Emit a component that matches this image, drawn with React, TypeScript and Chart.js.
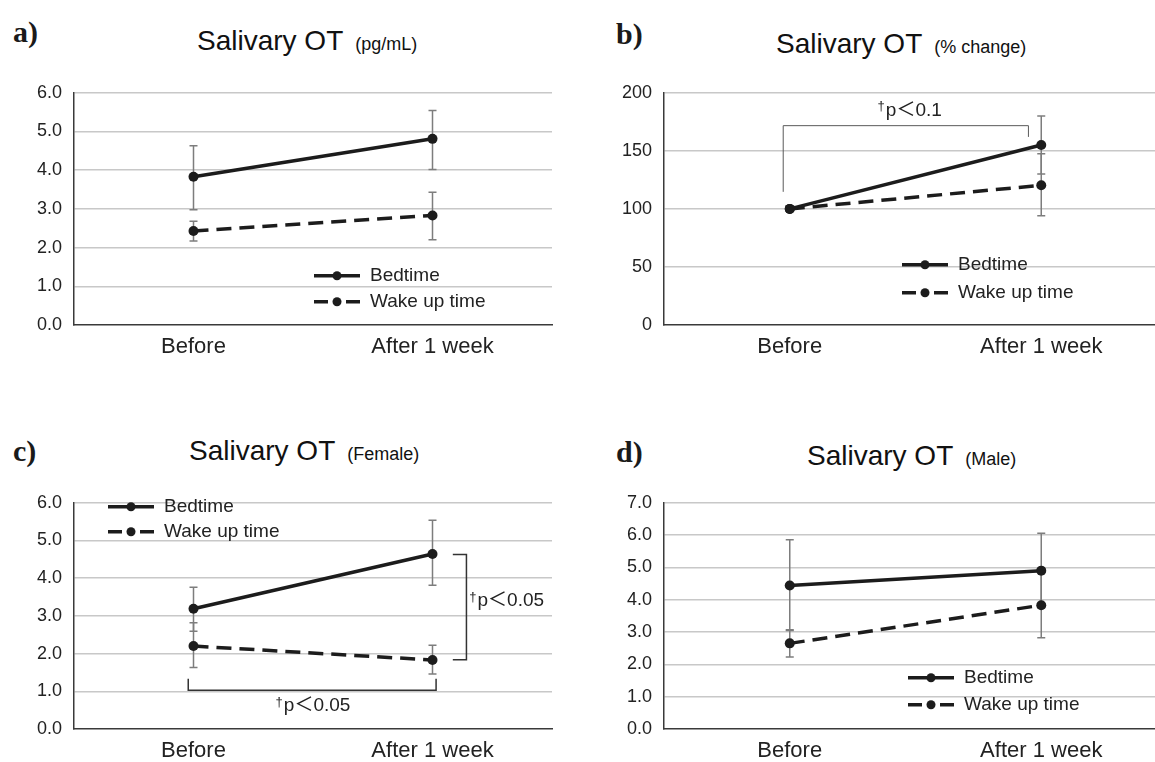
import React, { useEffect, useRef } from "react";
import { Chart, registerables } from "chart.js";

Chart.register(...registerables);

// ---------- data ----------
const CATEGORIES = ["Before", "After 1 week"];
const SERIES_NAMES = ["Bedtime", "Wake up time"];

// a) Salivary OT (pg/mL)
const A_BED = [3.83, 4.81];
const A_BED_LOW = [2.98, 4.02];
const A_BED_HIGH = [4.63, 5.54];
const A_WAKE = [2.43, 2.83];
const A_WAKE_LOW = [2.17, 2.2];
const A_WAKE_HIGH = [2.68, 3.43];
const A_Y_TICKS = [0, 1, 2, 3, 4, 5, 6];

// b) Salivary OT (% change)
const B_BED = [100, 155];
const B_BED_LOW = [null, 130];
const B_BED_HIGH = [null, 180];
const B_WAKE = [100, 120.3];
const B_WAKE_LOW = [null, 94];
const B_WAKE_HIGH = [null, 147.5];
const B_Y_TICKS = [0, 50, 100, 150, 200];

// c) Salivary OT (Female)
const C_BED = [3.19, 4.64];
const C_BED_LOW = [2.59, 3.81];
const C_BED_HIGH = [3.76, 5.54];
const C_WAKE = [2.2, 1.83];
const C_WAKE_LOW = [1.63, 1.46];
const C_WAKE_HIGH = [2.82, 2.22];
const C_Y_TICKS = [0, 1, 2, 3, 4, 5, 6];

// d) Salivary OT (Male)
const D_BED = [4.44, 4.9];
const D_BED_LOW = [3.05, 3.75];
const D_BED_HIGH = [5.86, 6.06];
const D_WAKE = [2.65, 3.83];
const D_WAKE_LOW = [2.23, 2.82];
const D_WAKE_HIGH = [3.07, 4.84];
const D_Y_TICKS = [0, 1, 2, 3, 4, 5, 6, 7];

// ---------- styles ----------
const FONT = "'Liberation Sans', Arial, 'Noto Sans CJK JP', sans-serif";
const SERIF = "'Liberation Serif', 'Times New Roman', serif";
const LINE = "#1c1c1c";
const TEXT = "#222222";
const GRID = "#c8c8c8";
const AXIS = "#3a3a3a";
const ERR = "#7d7d7d";
const DASH = [15, 8];

Chart.defaults.font.family = FONT;

type Bracket = { pts: [number, number][]; color: string; width: number };
type SigLabel = { x: number; y: number; text: string; align: "left" | "center" };

function errorBarPlugin(bars: { low: (number | null)[]; high: (number | null)[] }[]) {
  return {
    id: "errbars",
    beforeDatasetsDraw(chart: any) {
      const ctx = chart.ctx;
      const xs = chart.scales.x;
      const ys = chart.scales.y;
      ctx.save();
      ctx.strokeStyle = ERR;
      ctx.lineWidth = 1.5;
      bars.forEach((b) => {
        b.low.forEach((lo, i) => {
          const hi = b.high[i];
          if (lo == null || hi == null) return;
          const px = xs.getPixelForValue(i);
          const y1 = ys.getPixelForValue(lo);
          const y2 = ys.getPixelForValue(hi);
          ctx.beginPath();
          ctx.moveTo(px, y1);
          ctx.lineTo(px, y2);
          ctx.moveTo(px - 4, y1);
          ctx.lineTo(px + 4, y1);
          ctx.moveTo(px - 4, y2);
          ctx.lineTo(px + 4, y2);
          ctx.stroke();
        });
      });
      ctx.restore();
    },
  };
}

function drawSig(ctx: CanvasRenderingContext2D, x: number, y: number, text: string, align: string) {
  ctx.font = `13px ${FONT}`;
  const dw = ctx.measureText("†").width;
  ctx.font = `19px ${FONT}`;
  const mw = ctx.measureText(text).width;
  const total = dw + 1 + mw;
  const start = align === "center" ? x - total / 2 : x;
  ctx.fillStyle = TEXT;
  ctx.textBaseline = "middle";
  ctx.textAlign = "left";
  ctx.font = `13px ${FONT}`;
  ctx.fillText("†", start, y - 4);
  ctx.font = `19px ${FONT}`;
  ctx.fillText(text, start + dw + 1, y);
}

function annotationPlugin(brackets: Bracket[], labels: SigLabel[]) {
  return {
    id: "sigmarks",
    afterDatasetsDraw(chart: any) {
      const ctx = chart.ctx;
      const xs = chart.scales.x;
      const ys = chart.scales.y;
      ctx.save();
      brackets.forEach((b) => {
        ctx.strokeStyle = b.color;
        ctx.lineWidth = b.width;
        ctx.beginPath();
        b.pts.forEach(([cx, vy], k) => {
          const px = xs.getPixelForValue(cx);
          const py = ys.getPixelForValue(vy);
          if (k === 0) ctx.moveTo(px, py);
          else ctx.lineTo(px, py);
        });
        ctx.stroke();
      });
      labels.forEach((l) => {
        drawSig(ctx, xs.getPixelForValue(l.x), ys.getPixelForValue(l.y), l.text, l.align);
      });
      ctx.restore();
    },
  };
}

function legendPlugin(pos: { x: number; y: number; gap: number }) {
  return {
    id: "inlegend",
    afterDatasetsDraw(chart: any) {
      const ctx = chart.ctx;
      const { left, top } = chart.chartArea;
      ctx.save();
      chart.data.datasets.forEach((ds: any, i: number) => {
        const x0 = left + pos.x;
        const y = top + pos.y + i * pos.gap;
        const len = 46;
        ctx.strokeStyle = LINE;
        ctx.fillStyle = LINE;
        ctx.lineWidth = 3.5;
        ctx.setLineDash([]);
        ctx.beginPath();
        if (ds.borderDash && ds.borderDash.length) {
          ctx.moveTo(x0, y);
          ctx.lineTo(x0 + 14, y);
          ctx.moveTo(x0 + len - 14, y);
          ctx.lineTo(x0 + len, y);
        } else {
          ctx.moveTo(x0, y);
          ctx.lineTo(x0 + len, y);
        }
        ctx.stroke();
        ctx.beginPath();
        ctx.arc(x0 + len / 2, y, 4.5, 0, Math.PI * 2);
        ctx.fill();
        ctx.font = `19px ${FONT}`;
        ctx.fillStyle = TEXT;
        ctx.textBaseline = "middle";
        ctx.textAlign = "left";
        ctx.fillText(ds.label, x0 + len + 10, y);
      });
      ctx.restore();
    },
  };
}

type Panel = {
  bed: number[];
  wake: number[];
  bedLow: (number | null)[];
  bedHigh: (number | null)[];
  wakeLow: (number | null)[];
  wakeHigh: (number | null)[];
  yTicks: number[];
  decimals: number;
  yAxisW: number;
  xAxisH: number;
  padTop: number;
  padRight: number;
  legend: { x: number; y: number; gap: number };
  brackets: Bracket[];
  labels: SigLabel[];
};

function makeConfig(p: Panel): any {
  const ymin = p.yTicks[0];
  const ymax = p.yTicks[p.yTicks.length - 1];
  const step = p.yTicks[1] - p.yTicks[0];
  const common = {
    borderColor: LINE,
    backgroundColor: LINE,
    borderWidth: 3.5,
    pointRadius: 5,
    pointBackgroundColor: LINE,
    pointBorderColor: LINE,
    pointBorderWidth: 0,
    tension: 0,
    fill: false,
  };
  return {
    type: "line",
    data: {
      labels: CATEGORIES,
      datasets: [
        { ...common, label: SERIES_NAMES[0], data: p.bed },
        { ...common, label: SERIES_NAMES[1], data: p.wake, borderDash: DASH },
      ],
    },
    options: {
      animation: false,
      responsive: false,
      devicePixelRatio: 1,
      layout: { padding: { top: p.padTop, right: p.padRight, left: 0, bottom: 0 } },
      plugins: {
        legend: { display: false },
        tooltip: { enabled: false },
        title: { display: false },
      },
      scales: {
        x: {
          type: "category",
          offset: true,
          grid: { display: false, drawTicks: false },
          border: { display: true, color: AXIS, width: 1.5 },
          ticks: { color: TEXT, font: { size: 22 }, padding: 9, maxRotation: 0, autoSkip: false },
          afterFit: (s: any) => {
            s.height = p.xAxisH;
          },
        },
        y: {
          min: ymin,
          max: ymax,
          grid: {
            color: (c: any) => (c.tick && c.tick.value === ymin ? "rgba(0,0,0,0)" : GRID),
            lineWidth: 1.5,
            drawTicks: false,
          },
          border: { display: true, color: AXIS, width: 1.5 },
          ticks: {
            stepSize: step,
            color: TEXT,
            font: { size: 18 },
            padding: 12,
            callback: (v: any) => Number(v).toFixed(p.decimals),
          },
          afterFit: (s: any) => {
            s.width = p.yAxisW;
          },
        },
      },
    },
    plugins: [
      errorBarPlugin([
        { low: p.bedLow, high: p.bedHigh },
        { low: p.wakeLow, high: p.wakeHigh },
      ]),
      annotationPlugin(p.brackets, p.labels),
      legendPlugin(p.legend),
    ],
  };
}

const PANEL_A: Panel = {
  bed: A_BED, wake: A_WAKE, bedLow: A_BED_LOW, bedHigh: A_BED_HIGH, wakeLow: A_WAKE_LOW, wakeHigh: A_WAKE_HIGH,
  yTicks: A_Y_TICKS, decimals: 1, yAxisW: 74, xAxisH: 45, padTop: 15, padRight: 25,
  legend: { x: 240, y: 183, gap: 26 }, brackets: [], labels: [],
};
const PANEL_B: Panel = {
  bed: B_BED, wake: B_WAKE, bedLow: B_BED_LOW, bedHigh: B_BED_HIGH, wakeLow: B_WAKE_LOW, wakeHigh: B_WAKE_HIGH,
  yTicks: B_Y_TICKS, decimals: 0, yAxisW: 87, xAxisH: 45, padTop: 15, padRight: 10,
  legend: { x: 238, y: 172, gap: 28 },
  brackets: [{ pts: [[-0.026, 114.7], [-0.026, 171.7], [0.949, 171.7], [0.949, 162]], color: "#5a5a5a", width: 1 }],
  labels: [{ x: 0.477, y: 184.7, text: "p＜0.1", align: "center" }],
};
const PANEL_C: Panel = {
  bed: C_BED, wake: C_WAKE, bedLow: C_BED_LOW, bedHigh: C_BED_HIGH, wakeLow: C_WAKE_LOW, wakeHigh: C_WAKE_HIGH,
  yTicks: C_Y_TICKS, decimals: 1, yAxisW: 74, xAxisH: 33, padTop: 20, padRight: 25,
  legend: { x: 34, y: 4, gap: 25 },
  brackets: [
    { pts: [[1.085, 4.63], [1.142, 4.63], [1.142, 1.84], [1.085, 1.84]], color: "#333", width: 1.5 },
    { pts: [[-0.022, 1.33], [-0.022, 1.03], [1.015, 1.03], [1.015, 1.33]], color: "#333", width: 1.5 },
  ],
  labels: [
    { x: 1.154, y: 3.39, text: "p＜0.05", align: "left" },
    { x: 0.5, y: 0.61, text: "p＜0.05", align: "center" },
  ],
};
const PANEL_D: Panel = {
  bed: D_BED, wake: D_WAKE, bedLow: D_BED_LOW, bedHigh: D_BED_HIGH, wakeLow: D_WAKE_LOW, wakeHigh: D_WAKE_HIGH,
  yTicks: D_Y_TICKS, decimals: 1, yAxisW: 87, xAxisH: 33, padTop: 20, padRight: 10,
  legend: { x: 244, y: 175, gap: 27 }, brackets: [], labels: [],
};

function ChartCanvas({ panel, left, top, width, height }: { panel: Panel; left: number; top: number; width: number; height: number }) {
  const ref = useRef<HTMLCanvasElement | null>(null);
  useEffect(() => {
    if (!ref.current) return;
    const chart = new Chart(ref.current, makeConfig(panel));
    return () => chart.destroy();
  }, [panel]);
  return (
    <canvas
      ref={ref}
      width={width}
      height={height}
      style={{ position: "absolute", left, top, width, height }}
    />
  );
}

function Heading({ letter, letterLeft, letterBase, title, sub, titleLeft, titleBase }: any) {
  return (
    <>
      <div
        style={{
          position: "absolute",
          left: letterLeft,
          top: letterBase - 0.8375 * 30,
          fontFamily: SERIF,
          fontWeight: "bold",
          fontSize: 30,
          lineHeight: 1,
          color: "#1a1a1a",
          whiteSpace: "nowrap",
        }}
      >
        {letter}
      </div>
      <div
        style={{
          position: "absolute",
          left: titleLeft,
          top: titleBase - 0.8465 * 28,
          fontFamily: FONT,
          fontSize: 28,
          lineHeight: 1,
          color: "#111",
          whiteSpace: "nowrap",
        }}
      >
        {title}
        <span style={{ fontSize: 18, marginLeft: 12 }}>{sub}</span>
      </div>
    </>
  );
}

export default function App() {
  return (
    <div
      style={{
        position: "absolute",
        left: 0,
        top: 0,
        width: 1155,
        height: 762,
        overflow: "hidden",
        background: "#fff",
      }}
    >
      <Heading letter="a)" letterLeft={13} letterBase={42} title="Salivary OT" sub="(pg/mL)" titleLeft={197} titleBase={51} />
      <Heading letter="b)" letterLeft={616} letterBase={44} title="Salivary OT" sub="(% change)" titleLeft={776} titleBase={54} />
      <Heading letter="c)" letterLeft={13} letterBase={461} title="Salivary OT" sub="(Female)" titleLeft={189} titleBase={461} />
      <Heading letter="d)" letterLeft={616} letterBase={462} title="Salivary OT" sub="(Male)" titleLeft={807} titleBase={466} />
      <ChartCanvas panel={PANEL_A} left={0} top={70} width={577} height={300} />
      <ChartCanvas panel={PANEL_B} left={577} top={70} width={600} height={300} />
      <ChartCanvas panel={PANEL_C} left={0} top={480} width={577} height={282} />
      <ChartCanvas panel={PANEL_D} left={577} top={480} width={600} height={282} />
    </div>
  );
}
